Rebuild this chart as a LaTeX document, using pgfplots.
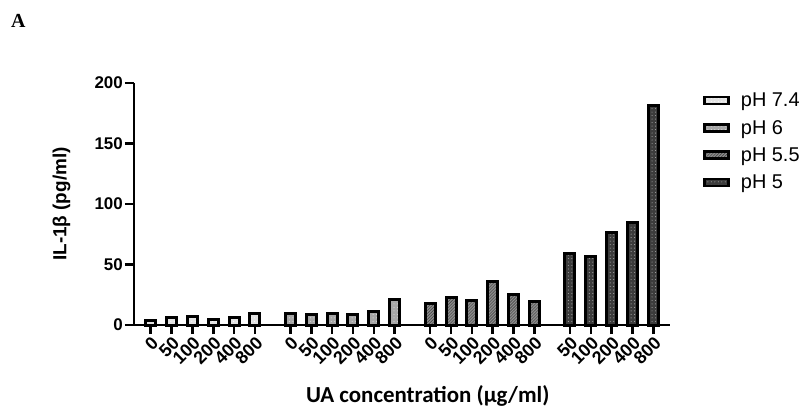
\documentclass[border=0pt]{standalone}
\usepackage{pgfplots}
\pgfplotsset{compat=1.18}
\usepackage{fontspec}
\setmainfont{Liberation Sans}
\newfontfamily\calibri{Carlito}
\newfontfamily\timesf{Liberation Serif}
\usetikzlibrary{patterns}
\definecolor{cA}{HTML}{E2E2E2}
\definecolor{cB}{HTML}{A6A6A6}
\definecolor{cC}{HTML}{8C8C8C}
\definecolor{cCd}{HTML}{3A3A3A}
\definecolor{cD}{HTML}{3C3C3C}
\pgfdeclarepatternformonly{sparsedots}{\pgfqpoint{-1pt}{-1pt}}{\pgfqpoint{1pt}{1pt}}{\pgfqpoint{3.5pt}{3.5pt}}{\pgfpathcircle{\pgfqpoint{0pt}{0pt}}{0.55pt}\pgfusepath{fill}}
\begin{document}
\begin{tikzpicture}[x=1bp,y=1bp]
\useasboundingbox (-134bp,-87bp) rectangle (673bp,325bp);
\begin{axis}[
  at={(0,0)}, anchor=south west,
  scale only axis, width=536bp, height=242bp,
  xmin=-0.8, xmax=24.9, ymin=0, ymax=200,
  axis lines*=left,
  axis line style={line width=2.8bp},
  tick style={line width=2.5bp, black},
  tick align=outside, major tick length=9bp,
  ytick={0,50,100,150,200},
  xtick={0,1,2,3,4,5,6.7,7.7,8.7,9.7,10.7,11.7,13.4,14.4,15.4,16.4,17.4,18.4,20.1,21.1,22.1,23.1,24.1},
  xticklabels={0,50,100,200,400,800,0,50,100,200,400,800,0,50,100,200,400,800,50,100,200,400,800},
  /pgf/number format/assume math mode=true,
  y tick label style={font=\bfseries\fontsize{17}{17}\selectfont, inner sep=2bp},
  x tick label style={font=\bfseries\fontsize{18}{18}\selectfont, rotate=45, anchor=north east, inner sep=1bp},
  ylabel={IL-1β (pg/ml)},
  ylabel style={font=\bfseries\fontsize{19}{19}\selectfont, at={(axis description cs:-0.135,0.5)}, anchor=center},
  xlabel={\calibri\bfseries UA concentration (µg/ml)},
  xlabel style={font=\fontsize{23}{23}\selectfont, at={(axis description cs:0.548,-0.293)}, anchor=center},
  clip=false,
  legend style={draw=none, fill=none, at={(axis description cs:1.062,0.968)}, anchor=north west,
    font=\fontsize{20}{20}\selectfont, row sep=8bp, inner sep=0pt,
    nodes={inner sep=2bp},
    /tikz/every odd column/.append style={column sep=9bp}},
  legend cell align=left,
  legend image code/.code={\draw[#1, line width=2.5bp] (0bp,-3.5bp) rectangle (24bp,3.5bp);},
]
\addplot[ybar, bar width=10bp, bar shift=0pt, draw=black, line width=3bp, fill=cA,
  postaction={pattern=sparsedots, pattern color=white}]
  coordinates {(0,3.7) (1,5.9) (2,6.7) (3,4.2) (4,5.9) (5,9.2)};
\addlegendentry{pH 7.4}
\addplot[ybar, bar width=10bp, bar shift=0pt, draw=black, line width=3bp, fill=cB,
  postaction={pattern=sparsedots, pattern color=gray!25}]
  coordinates {(6.7,9.2) (7.7,8.7) (8.7,9.8) (9.7,8.4) (10.7,11.4) (11.7,20.7)};
\addlegendentry{pH 6}
\addplot[ybar, bar width=10bp, bar shift=0pt, draw=black, line width=3bp, fill=cC,
  postaction={pattern=north east lines, pattern color=cCd}]
  coordinates {(13.4,17.8) (14.4,23) (15.4,20.5) (16.4,36) (17.4,25.2) (18.4,19.7)};
\addlegendentry{pH 5.5}
\addplot[ybar, bar width=10bp, bar shift=0pt, draw=black, line width=3bp, fill=cD,
  postaction={pattern=sparsedots, pattern color=gray!70}]
  coordinates {(20.1,58.8) (21.1,56.6) (22.1,76.7) (23.1,84.7) (24.1,181.4)};
\addlegendentry{pH 5}
\node[font=\timesf\bfseries\fontsize{20}{20}\selectfont] at (axis description cs:-0.216,1.256) {A};
\end{axis}
\end{tikzpicture}
\end{document}
